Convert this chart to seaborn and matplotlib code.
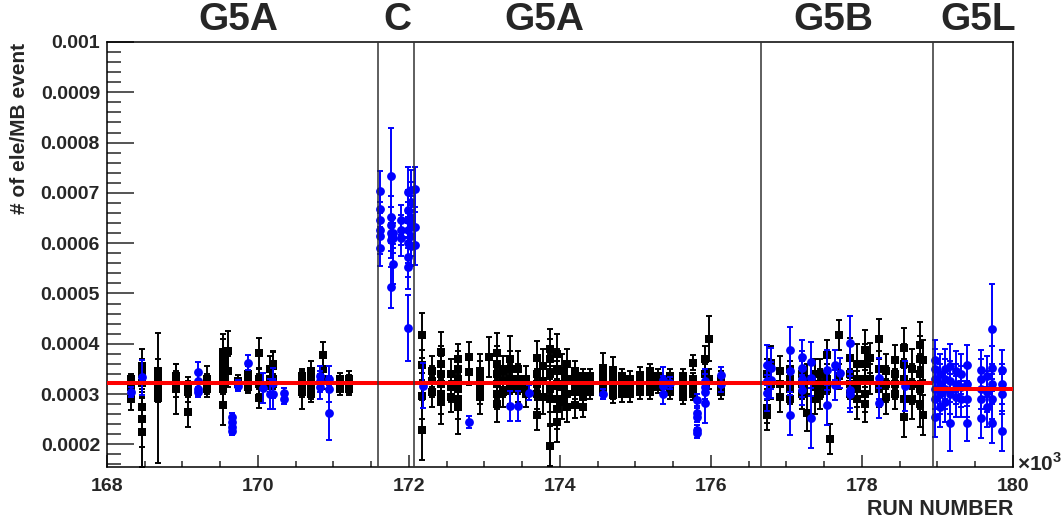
import numpy as np
import pandas as pd
import seaborn as sns
import matplotlib.pyplot as plt
from matplotlib.ticker import MultipleLocator, FixedLocator
import matplotlib.transforms as mtransforms

# run number (x10^3), electrons per MB event (x10^-4), error (x10^-4)
# black squares
blk_run = [168.32, 168.32, 168.32, 168.32, 168.32,
           168.47, 168.47, 168.47, 168.47, 168.47, 168.47,
           168.68, 168.68, 168.68, 168.68, 168.68,
           168.91, 168.91, 168.91,
           169.07, 169.07, 169.07,
           169.32, 169.32, 169.32,
           169.54, 169.54, 169.54, 169.54, 169.54, 169.54, 169.54,
           169.60, 169.60,
           169.73, 169.73,
           169.87, 169.87, 169.87, 169.87, 169.87,
           170.01, 170.01, 170.01, 170.01,
           170.16, 170.16, 170.16,
           170.20, 170.20, 170.20, 170.20,
           170.58, 170.58, 170.58, 170.58,
           170.70, 170.70, 170.70, 170.70, 170.70,
           170.86, 170.86, 170.86,
           171.09, 171.09, 171.09,
           171.20, 171.20, 171.20, 171.20,
           172.17, 172.17, 172.17, 172.17,
           172.30, 172.30, 172.30,
           172.43, 172.43, 172.43, 172.43, 172.43, 172.43,
           172.55, 172.55, 172.55,
           172.65, 172.65, 172.65, 172.65, 172.65, 172.65,
           172.79, 172.79,
           172.94, 172.94, 172.94, 172.94,
           173.06,
           173.17, 173.17, 173.17, 173.17, 173.17, 173.17,
           173.25, 173.25, 173.25,
           173.34, 173.34, 173.34, 173.34,
           173.45, 173.45, 173.45,
           173.55, 173.55, 173.55,
           173.69, 173.69, 173.69, 173.69, 173.69,
           173.78, 173.78, 173.78,
           173.87, 173.87, 173.87, 173.87, 173.87, 173.87,
           173.96, 173.96, 173.96, 173.96, 173.96, 173.96,
           174.02, 174.02, 174.02,
           174.09, 174.09, 174.09, 174.09,
           174.20, 174.20, 174.20, 174.20, 174.20, 174.20,
           174.30, 174.30, 174.30, 174.30, 174.30, 174.30,
           174.40, 174.40, 174.40, 174.40,
           174.57, 174.57, 174.57, 174.57,
           174.70, 174.70, 174.70, 174.70, 174.70,
           174.82, 174.82, 174.82, 174.82,
           174.93, 174.93, 174.93, 174.93,
           175.06, 175.06, 175.06, 175.06,
           175.19, 175.19, 175.19, 175.19, 175.19,
           175.30, 175.30, 175.30,
           175.46, 175.46, 175.46,
           175.63, 175.63, 175.63, 175.63, 175.63,
           175.76, 175.76, 175.76, 175.76, 175.76,
           175.92, 175.92,
           175.97, 175.97,
           176.13, 176.13, 176.13,
           176.74, 176.74, 176.74,
           176.80, 176.80,
           176.92, 176.92, 176.92,
           177.05, 177.05, 177.05, 177.05,
           177.20, 177.20, 177.20,
           177.27, 177.27,
           177.38, 177.38, 177.38,
           177.45, 177.45, 177.45,
           177.53, 177.53, 177.53,
           177.58,
           177.70, 177.70,
           177.84, 177.84, 177.84, 177.84,
           177.93, 177.93, 177.93, 177.93,
           178.04, 178.04, 178.04, 178.04, 178.04,
           178.10, 178.10,
           178.22, 178.22, 178.22,
           178.32, 178.32, 178.32,
           178.44, 178.44, 178.44, 178.44,
           178.56, 178.56, 178.56, 178.56, 178.56,
           178.66, 178.66, 178.66,
           178.77, 178.77, 178.77, 178.77, 178.77,
           178.81, 178.81]
blk_val = [3.30, 3.25, 3.20, 3.15, 2.90,
           3.55, 3.40, 3.22, 2.75, 2.50, 2.25,
           3.45, 3.30, 3.20, 3.05, 2.92,
           3.35, 3.20, 3.10,
           3.15, 3.05, 2.64,
           3.30, 3.20, 3.10,
           3.84, 3.70, 3.55, 3.40, 3.25, 3.10, 2.78,
           3.86, 3.45,
           3.25, 3.20,
           3.40, 3.30, 3.25, 3.20, 3.15,
           3.82, 3.30, 3.20, 2.92,
           3.50, 3.30, 3.20,
           3.59, 3.55, 3.30, 3.20,
           3.35, 3.25, 3.15, 3.05,
           3.45, 3.30, 3.20, 3.10, 3.00,
           3.78, 3.50, 3.30,
           3.30, 3.20, 3.10,
           3.30, 3.25, 3.15, 3.10,
           4.17, 3.57, 2.96, 2.29,
           3.45, 3.25, 3.05,
           3.84, 3.60, 3.40, 3.20, 3.00, 2.85,
           3.40, 3.15, 2.95,
           3.70, 3.50, 3.30, 3.10, 2.90, 2.75,
           3.74, 3.44,
           3.45, 3.30, 3.10, 2.95,
           3.74,
           3.81, 3.60, 3.40, 3.20, 3.00, 2.80,
           3.45, 3.25, 3.05,
           3.70, 3.50, 3.30, 3.10,
           3.50, 3.30, 3.10,
           3.30, 3.15, 3.00,
           3.71, 3.40, 3.20, 3.00, 2.58,
           3.55, 3.25, 2.95,
           3.90, 3.70, 3.40, 3.10, 2.90, 1.97,
           3.80, 3.50, 3.20, 2.90, 2.70, 2.45,
           3.45, 3.15, 2.85,
           3.60, 3.30, 3.00, 2.75,
           3.45, 3.35, 3.25, 3.15, 3.05, 2.78,
           3.35, 3.25, 3.15, 3.05, 2.95, 2.75,
           3.35, 3.25, 3.15, 3.05,
           3.52, 3.35, 3.20, 3.05,
           3.48, 3.35, 3.20, 3.05, 2.98,
           3.35, 3.20, 3.10, 3.00,
           3.30, 3.20, 3.10, 3.00,
           3.38, 3.25, 3.15, 3.05,
           3.45, 3.35, 3.25, 3.15, 3.05,
           3.35, 3.25, 3.15,
           3.35, 3.20, 3.05,
           3.35, 3.25, 3.15, 3.05, 2.95,
           3.62, 3.30, 3.20, 3.10, 3.00,
           3.70, 3.40,
           4.10, 3.30,
           3.30, 3.15, 3.05,
           3.40, 2.72, 2.58,
           3.61, 3.20,
           3.45, 3.20, 2.95,
           3.50, 3.30, 3.10, 2.90,
           3.40, 3.20, 3.00,
           2.62, 3.30,
           3.40, 3.15, 2.90,
           3.40, 3.20, 3.00,
           3.78, 3.30, 3.10,
           2.10,
           4.17, 3.35,
           3.71, 3.40, 3.20, 3.00,
           3.60, 3.30, 3.10, 2.90,
           3.88, 3.60, 3.30, 3.00, 2.80,
           3.71, 3.30,
           4.09, 3.50, 3.10,
           3.45, 3.20, 2.95,
           3.68, 3.40, 3.20, 3.00,
           3.91, 3.60, 3.30, 2.90, 2.55,
           3.50, 3.20, 2.90,
           3.98, 3.70, 3.40, 3.10, 2.80,
           3.68, 2.58]
blk_err = [0.10, 0.10, 0.10, 0.12, 0.22,
           0.35, 0.30, 0.30, 0.45, 0.55, 0.70,
           0.25, 0.20, 0.25, 0.20, 1.30,
           0.25, 0.25, 0.50,
           0.18, 0.20, 0.30,
           0.25, 0.20, 0.15,
           0.35, 0.40, 0.30, 0.25, 0.25, 0.30, 0.40,
           0.40, 0.30,
           0.12, 0.12,
           0.15, 0.15, 0.15, 0.15, 0.12,
           0.30, 0.20, 0.20, 0.20,
           0.25, 0.20, 0.15,
           0.25, 0.30, 0.20, 0.20,
           0.15, 0.20, 0.20, 0.35,
           0.20, 0.20, 0.20, 0.20, 0.15,
           0.25, 0.25, 0.20,
           0.12, 0.12, 0.12,
           0.15, 0.12, 0.12, 0.12,
           0.45, 0.30, 0.45, 0.60,
           0.30, 0.30, 0.30,
           0.40, 0.35, 0.35, 0.40, 0.40, 0.45,
           0.30, 0.30, 0.30,
           0.30, 0.35, 0.35, 0.35, 0.40, 0.55,
           0.30, 0.25,
           0.35, 0.35, 0.30, 0.35,
           0.40,
           0.40, 0.35, 0.40, 0.30, 0.30, 0.35,
           0.30, 0.30, 0.30,
           0.45, 0.35, 0.30, 0.30,
           0.35, 0.30, 0.25,
           0.25, 0.20, 0.25,
           0.35, 0.30, 0.30, 0.30, 0.30,
           0.35, 0.35, 0.35,
           0.40, 0.40, 0.40, 0.45, 0.50, 0.40,
           0.40, 0.40, 0.45, 0.40, 0.40, 0.40,
           0.35, 0.35, 0.35,
           0.30, 0.30, 0.30, 0.30,
           0.20, 0.15, 0.15, 0.15, 0.15, 0.25,
           0.15, 0.15, 0.15, 0.15, 0.15, 0.20,
           0.15, 0.15, 0.15, 0.15,
           0.30, 0.15, 0.15, 0.15,
           0.25, 0.15, 0.15, 0.15, 0.15,
           0.15, 0.15, 0.15, 0.15,
           0.15, 0.15, 0.15, 0.15,
           0.15, 0.12, 0.12, 0.15,
           0.15, 0.15, 0.12, 0.12, 0.15,
           0.15, 0.12, 0.12,
           0.15, 0.15, 0.15,
           0.15, 0.15, 0.15, 0.15, 0.15,
           0.15, 0.12, 0.12, 0.12, 0.12,
           0.25, 0.20,
           0.45, 0.20,
           0.15, 0.15, 0.15,
           0.30, 0.30, 0.30,
           0.35, 0.30,
           0.30, 0.30, 0.30,
           0.35, 0.35, 0.30, 0.30,
           0.30, 0.30, 0.30,
           0.35, 0.30,
           0.30, 0.30, 0.30,
           0.30, 0.30, 0.30,
           0.30, 0.30, 0.30,
           0.30,
           0.30, 0.25,
           0.40, 0.30, 0.30, 0.35,
           0.40, 0.35, 0.35, 0.40,
           0.40, 0.40, 0.35, 0.35, 0.35,
           0.30, 0.30,
           0.40, 0.35, 0.35,
           0.35, 0.35, 0.35,
           0.30, 0.30, 0.30, 0.30,
           0.40, 0.40, 0.40, 0.40, 0.40,
           0.40, 0.40, 0.40,
           0.45, 0.45, 0.40, 0.40, 0.45,
           0.40, 0.40]

# blue circles
blu_run = [168.32, 168.47,
           169.21, 169.21, 169.21, 169.21,
           169.65, 169.65, 169.65, 169.65,
           169.73, 169.87, 170.06, 170.16,
           170.20, 170.20,
           170.34, 170.34,
           170.82, 170.82, 170.82,
           170.94, 170.94, 170.94,
           171.61, 171.61, 171.61, 171.61, 171.61, 171.61,
           171.76, 171.76, 171.76, 171.76, 171.76, 171.76,
           171.79, 171.79, 171.79,
           171.89, 171.89, 171.89,
           171.99, 171.99, 171.99, 171.99, 171.99, 171.99, 171.99, 171.99,
           172.03, 172.03, 172.03, 172.03, 172.03, 172.03,
           172.08, 172.08, 172.08,
           172.18, 172.79, 173.34, 173.45, 173.59, 174.57,
           175.36, 175.36, 175.36,
           175.46,
           175.82, 175.82, 175.82, 175.82, 175.82,
           175.92, 175.92, 175.92, 175.92,
           176.13, 176.13,
           176.74, 176.74, 176.74,
           176.80, 176.80,
           177.05, 177.05, 177.05,
           177.20, 177.20, 177.20, 177.20,
           177.33, 177.33, 177.33,
           177.53, 177.53,
           177.64, 177.64,
           177.71,
           177.84, 177.84, 177.84,
           178.22, 178.22,
           178.57,
           178.97, 178.97, 178.97, 178.97, 178.97, 178.97,
           179.03, 179.03, 179.03, 179.03,
           179.10, 179.10, 179.10, 179.10,
           179.17, 179.17, 179.17, 179.17,
           179.24, 179.24, 179.24,
           179.31, 179.31, 179.31,
           179.39, 179.39, 179.39, 179.39,
           179.58, 179.58, 179.58, 179.58, 179.58,
           179.65, 179.65, 179.65,
           179.72, 179.72, 179.72, 179.72, 179.72,
           179.85, 179.85, 179.85, 179.85]
blu_val = [3.05, 3.33,
           3.43, 3.25, 3.10, 3.05,
           2.55, 2.45, 2.35, 2.27,
           3.17, 3.62, 3.12, 3.00,
           3.22, 3.00,
           3.03, 2.90,
           3.35, 3.25, 3.15,
           2.63, 3.30, 3.10,
           7.04, 6.67, 6.46, 6.26, 6.14, 5.90,
           7.34, 6.53, 6.36, 6.20, 6.06, 5.12,
           6.20, 6.10, 5.59,
           6.46, 6.26, 6.10,
           7.02, 6.66, 6.46, 6.26, 6.00, 5.73, 5.53, 4.31,
           7.05, 6.82, 6.53, 6.35, 6.15, 5.94,
           7.07, 6.32, 5.97,
           3.17, 2.45, 2.76, 2.76, 3.03, 3.00,
           3.28, 3.16, 3.00,
           3.22,
           2.88, 2.62, 2.55, 2.29, 2.22,
           3.25, 3.15, 3.05, 2.82,
           3.38, 3.20,
           3.58, 3.25, 3.02,
           3.51, 3.28,
           3.88, 3.45, 2.58,
           3.73, 3.51, 3.30, 3.08,
           3.64, 3.31, 2.52,
           3.48, 2.78,
           3.58, 3.18,
           3.42,
           4.01, 3.08, 3.00,
           3.31, 2.82,
           3.16,
           3.68, 3.50, 3.30, 3.10, 2.90, 2.55,
           3.40, 3.20, 3.00, 2.75,
           3.50, 3.30, 3.10, 2.85,
           3.55, 3.25, 3.00, 2.42,
           3.45, 3.20, 2.95,
           3.40, 3.15, 2.90,
           3.58, 3.20, 2.90, 2.42,
           3.48, 3.30, 3.10, 2.90, 2.52,
           3.35, 3.05, 2.75,
           4.29, 3.51, 3.20, 2.90, 2.42,
           3.48, 3.20, 3.00, 2.27]
blu_err = [0.10, 0.35,
           0.20, 0.15, 0.12, 0.10,
           0.08, 0.08, 0.08, 0.08,
           0.10, 0.15, 0.30, 0.30,
           0.30, 0.30,
           0.10, 0.10,
           0.20, 0.20, 0.25,
           0.55, 0.25, 0.25,
           0.40, 0.35, 0.35, 0.35, 0.35, 0.35,
           0.95, 0.40, 0.35, 0.35, 0.35, 0.40,
           0.30, 0.30, 0.40,
           0.30, 0.30, 0.35,
           0.50, 0.40, 0.35, 0.35, 0.40, 0.40, 0.45, 0.65,
           0.40, 0.40, 0.40, 0.40, 0.40, 0.40,
           0.45, 0.40, 0.40,
           0.45, 0.12, 0.30, 0.30, 0.15, 0.10,
           0.25, 0.20, 0.20,
           0.12,
           0.12, 0.10, 0.10, 0.10, 0.10,
           0.25, 0.25, 0.20, 0.40,
           0.15, 0.15,
           0.40, 0.35, 0.35,
           0.40, 0.35,
           0.45, 0.40, 0.40,
           0.35, 0.35, 0.35, 0.30,
           0.40, 0.35, 0.60,
           0.40, 0.40,
           0.30, 0.30,
           0.30,
           0.55, 0.35, 0.35,
           0.40, 0.30,
           0.50,
           0.40, 0.40, 0.40, 0.40, 0.40, 0.40,
           0.40, 0.40, 0.40, 0.40,
           0.40, 0.40, 0.40, 0.40,
           0.45, 0.40, 0.40, 0.55,
           0.40, 0.40, 0.40,
           0.40, 0.40, 0.35,
           0.40, 0.35, 0.35, 0.35,
           0.40, 0.40, 0.40, 0.40, 0.40,
           0.40, 0.40, 0.40,
           0.90, 0.45, 0.40, 0.40, 0.40,
           0.40, 0.40, 0.40, 0.40]

# period boundaries and names
boundaries = [171.59, 172.07, 176.66, 178.94]
period_names = ['G5A', 'C', 'G5A', 'G5B', 'G5L']
period_label_x = [169.74, 171.84, 173.79, 177.62, 179.54]

# fitted averages (x10^-4) for each span
fit_start = [168.0, 178.94]
fit_end = [178.94, 180.0]
fit_val = [3.22, 3.11]

blk = pd.DataFrame({'run': blk_run, 'val': np.array(blk_val) * 1e-4, 'err': np.array(blk_err) * 1e-4})
blu = pd.DataFrame({'run': blu_run, 'val': np.array(blu_val) * 1e-4, 'err': np.array(blu_err) * 1e-4})

sns.set_style('ticks')
plt.rcParams['font.family'] = ['Liberation Sans', 'DejaVu Sans']
plt.rcParams['font.weight'] = 'bold'
plt.rcParams['mathtext.fontset'] = 'custom'
plt.rcParams['mathtext.rm'] = 'Liberation Sans:bold'
plt.rcParams['mathtext.bf'] = 'Liberation Sans:bold'

fig = plt.figure(figsize=(10.62, 5.25), dpi=100)
ax = fig.add_axes([107 / 1062, 1 - 467 / 525, 906 / 1062, 425 / 525])

# black points
ax.errorbar(blk['run'], blk['val'], yerr=blk['err'], fmt='none', ecolor='black',
            elinewidth=1.4, capsize=2.2, capthick=1.4, zorder=2)
sns.scatterplot(data=blk, x='run', y='val', marker='s', color='black', s=34,
                linewidth=0, ax=ax, zorder=3)

# blue points
ax.errorbar(blu['run'], blu['val'], yerr=blu['err'], fmt='none', ecolor='blue',
            elinewidth=1.4, capsize=2.2, capthick=1.4, zorder=4)
sns.scatterplot(data=blu, x='run', y='val', marker='o', color='blue', s=40,
                linewidth=0, ax=ax, zorder=5)

# fit lines
for x0, x1, v in zip(fit_start, fit_end, fit_val):
    ax.hlines(v * 1e-4, x0, x1, color='red', linewidth=2.9, zorder=6)

# period boundaries
for b in boundaries:
    ax.axvline(b, color='#333333', linewidth=1.1, zorder=7)

trans = mtransforms.blended_transform_factory(ax.transData, ax.transAxes)
for name, px in zip(period_names, period_label_x):
    ax.text(px, 1.052, name, transform=trans, ha='center', va='center',
            fontsize=28, fontweight='bold', clip_on=False)

ax.set_xlim(168, 180)
ax.set_ylim(0.000155, 0.001)
ax.xaxis.set_major_locator(MultipleLocator(2))
ax.xaxis.set_minor_locator(MultipleLocator(0.5))
ax.yaxis.set_major_locator(FixedLocator([0.0002, 0.0003, 0.0004, 0.0005, 0.0006,
                                         0.0007, 0.0008, 0.0009, 0.001]))
ax.yaxis.set_minor_locator(MultipleLocator(0.00002))
ax.set_xticklabels([f'{int(v)}' for v in ax.get_xticks()])
ax.set_yticklabels(['0.0002', '0.0003', '0.0004', '0.0005', '0.0006',
                    '0.0007', '0.0008', '0.0009', '0.001'])

ax.tick_params(axis='x', which='major', direction='in', length=9, width=1.1,
               labelsize=14, pad=8)
ax.tick_params(axis='x', which='minor', direction='in', length=4.5, width=1.1)
ax.tick_params(axis='y', which='major', direction='in', length=19.5, width=1.1,
               labelsize=14, pad=5)
ax.tick_params(axis='y', which='minor', direction='in', length=10, width=1.1)
for lab in ax.get_xticklabels() + ax.get_yticklabels():
    lab.set_fontweight('bold')
for sp in ax.spines.values():
    sp.set_visible(True)
    sp.set_linewidth(1.1)
    sp.set_color('black')

ax.set_xlabel('RUN NUMBER', loc='right', fontsize=15.5, fontweight='bold', labelpad=3)
ax.set_ylabel('')
fig.text(20 / 1062, 1 - 43 / 525, '# of ele/MB event', rotation=90, ha='center',
         va='top', fontsize=15, fontweight='bold')
ax.text(1.004, -0.008, r'$\times$10$^{3}$', transform=ax.transAxes, ha='left',
        va='baseline', fontsize=15, fontweight='bold')

fig.savefig('out.png', dpi=100)
